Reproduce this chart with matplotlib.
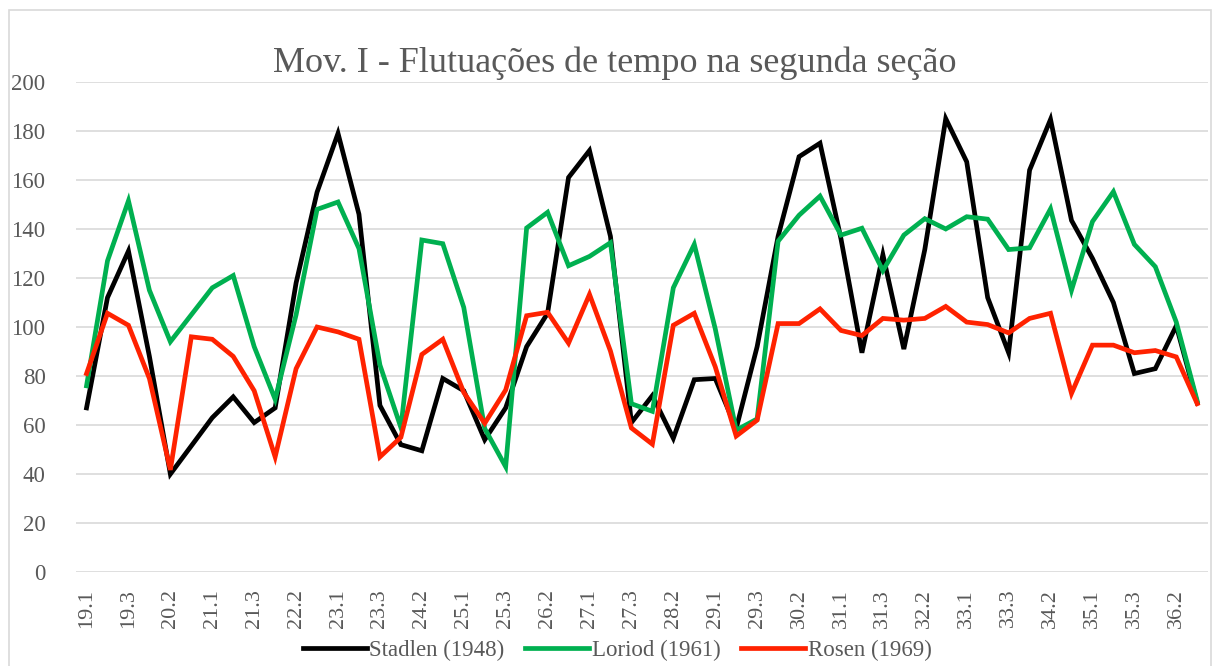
import numpy as np
import matplotlib.pyplot as plt
from matplotlib.patches import Rectangle

# compassos 19-36, tempos 1-3
categories = [f"{m}.{b}" for m in range(19, 37) for b in (1, 2, 3)]

stadlen = [67, 112, 131, 88, 40, 51.5, 63, 71.5, 61, 67,
           118, 155, 179, 146, 68, 52, 49.5, 79, 74, 54,
           67, 92, 105.6, 161, 172, 137, 61, 72, 54.6, 78.5,
           79, 58.6, 92, 137, 169.5, 175, 136, 89.5, 129.5, 91,
           131.6, 185, 167.4, 112, 89.5, 164, 184.7, 143.5, 128, 110,
           81, 83, 100.5, 69]
loriod = [76, 127, 151.5, 115, 94, 105, 116, 121, 92, 70.5,
          105, 148, 151, 132, 84.5, 59, 135.5, 134, 108, 58.6,
          43, 140.4, 146.8, 125, 128.8, 134.4, 68.7, 65.6, 116, 133.7,
          99.3, 57.9, 62.5, 135, 145.6, 153.4, 137.5, 140.3, 123, 137.5,
          144.2, 140, 145, 144, 131.6, 132.3, 148.2, 115, 143, 155.2,
          133.7, 124.6, 102, 69.8]
rosen = [81, 105.6, 100.7, 79, 41.7, 96, 95, 88, 74, 47,
         83, 100, 98, 95, 47, 55, 88.8, 95, 73.3, 60.7,
         74.3, 104.6, 106, 93.4, 113.3, 90.2, 58.8, 52.2, 100.7, 105.6,
         83.8, 55.5, 62, 101.4, 101.4, 107.4, 98.6, 96.5, 103.5, 102.8,
         103.5, 108.4, 102, 101, 97.6, 103.5, 105.6, 72.9, 92.6, 92.6,
         89.5, 90.4, 87.8, 68.7]

series = [("Stadlen (1948)", stadlen, "#000000"),
          ("Loriod (1961)", loriod, "#00B050"),
          ("Rosen (1969)", rosen, "#FF2200")]

plt.rcParams['font.family'] = ['Liberation Serif', 'DejaVu Serif']
txt = "#595959"

fig = plt.figure(figsize=(12.15, 6.66), dpi=100)
ax = fig.add_axes([0.0626, 0.141, 0.9314, 0.736])

x = np.arange(len(categories))
for name, vals, col in series:
    ax.plot(x, vals, color=col, lw=3.4, label=name, solid_joinstyle="miter")

ax.set_xlim(-0.5, len(categories) - 0.5)
ax.set_ylim(0, 200)
ax.set_yticks(range(0, 201, 20))
ax.set_xticks(x[::2])
ax.set_xticklabels(categories[::2], rotation=90, fontsize=16, color=txt)
ax.tick_params(axis="y", labelsize=16.5, labelcolor=txt, length=0, pad=22)
ax.tick_params(axis="x", length=0, pad=12)
ax.grid(axis="y", color="#D9D9D9", lw=1.2)
ax.set_axisbelow(True)
for s in ax.spines.values():
    s.set_visible(False)

fig.text(0.506, 0.905, "Mov. I - Flutuações de tempo na segunda seção",
         ha="center", va="center", fontsize=26, color=txt)

fig.legend(loc="lower center", bbox_to_anchor=(0.508, -0.024), ncol=3,
           frameon=False, fontsize=16.5, handlelength=2.8, handletextpad=0.1,
           columnspacing=0.9, labelcolor=txt)

fig.patches.append(Rectangle((0.007, -0.01), 0.99, 0.995, transform=fig.transFigure,
                             fill=False, edgecolor="#D9D9D9", lw=1.2))

fig.savefig("out.png", dpi=100)
